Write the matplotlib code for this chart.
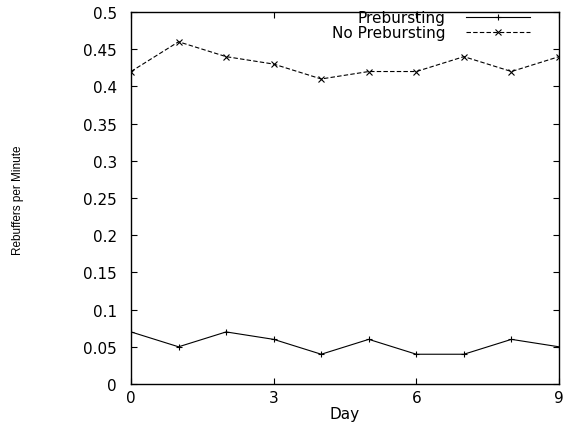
import matplotlib
matplotlib.use("Agg")
import matplotlib.pyplot as plt

days = [0, 1, 2, 3, 4, 5, 6, 7, 8, 9]
prebursting = [0.07, 0.05, 0.07, 0.06, 0.04, 0.06, 0.04, 0.04, 0.06, 0.05]
no_prebursting = [0.42, 0.46, 0.44, 0.43, 0.41, 0.42, 0.42, 0.44, 0.42, 0.44]
xticks = [0, 3, 6, 9]
yticks = [0, 0.05, 0.1, 0.15, 0.2, 0.25, 0.3, 0.35, 0.4, 0.45, 0.5]
ytick_labels = ["0", "0.05", "0.1", "0.15", "0.2", "0.25", "0.3", "0.35", "0.4", "0.45", "0.5"]

plt.rcParams['font.family'] = ['DejaVu Sans']

fig = plt.figure(figsize=(5.66, 4.27), dpi=100)
ax = fig.add_axes([131/566, 1 - 385/427, (559-131)/566, (385-13)/427])

ax.plot(days, prebursting, color='black', lw=0.8, marker='+', ms=5, mew=0.8, label='Prebursting')
ax.plot(days, no_prebursting, color='black', lw=0.8, ls=(0, (4, 2)), marker='x', ms=4, mew=0.8, label='No Prebursting')

ax.set_xlim(0, 9)
ax.set_ylim(0, 0.5)
ax.set_xticks(xticks)
ax.set_yticks(yticks)
ax.set_yticklabels(ytick_labels)
ax.tick_params(direction='in', top=True, right=True, length=4.5, width=0.8, labelsize=11)
ax.tick_params(axis='y', pad=10)
ax.tick_params(axis='x', pad=4)
for s in ax.spines.values():
    s.set_linewidth(1.0)

ax.set_xlabel('Day', fontsize=11, labelpad=1)
fig.text(18/566, 1 - 200/427, 'Rebuffers per Minute', rotation=90, ha='center', va='center',
         fontsize=8.5, family=['Liberation Sans Narrow', 'Liberation Sans', 'DejaVu Sans'])

leg = ax.legend(loc='upper right', bbox_to_anchor=(0.932, 1.005), frameon=False, markerfirst=False,
                fontsize=11, handlelength=4.2, handletextpad=1.3, borderaxespad=0.0,
                labelspacing=0.0, borderpad=0.0, numpoints=1)
for t in leg.get_texts():
    t.set_ha('right')
leg._legend_box.align = 'right'

fig.savefig('out.png', dpi=100)
